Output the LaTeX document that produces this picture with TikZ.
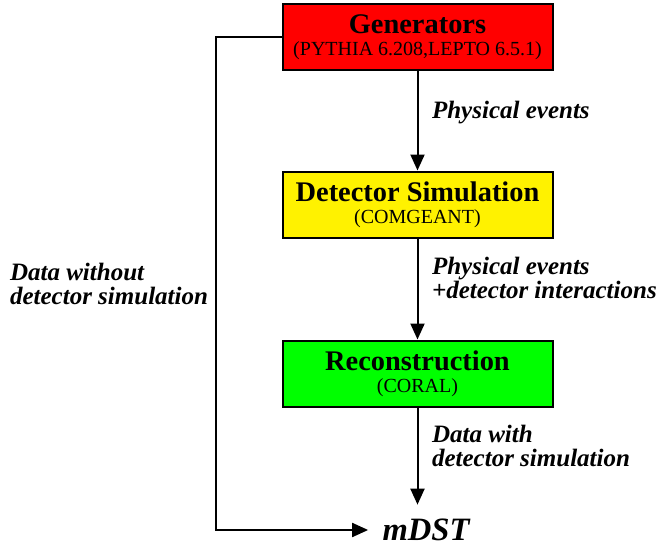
\documentclass[tikz,border=0pt]{standalone}
\usepackage{fontspec}
\setmainfont{Liberation Serif}
\usepackage{tikz}
\usetikzlibrary{positioning,arrows.meta}
\tikzstyle{arrow} = [line width=1pt,-{Triangle[width=7pt,length=8pt]}]
\tikzset{
 box/.style
  = {rectangle, draw, line width=1pt, minimum width=135pt, minimum height=33pt,
     inner sep=0pt, align=center},
 lbl/.style
  = {anchor=west, align=left, font=\fontsize{12.5}{12}\selectfont\bfseries\itshape},
}
\newcommand{\sub}[1]{{\fontsize{10}{12}\selectfont #1}}
\newcommand{\ttl}[1]{{\fontsize{14.2}{14}\selectfont\bfseries #1}}

\begin{document}
\begin{tikzpicture}[x=0.5pt,y=-0.5pt]
\useasboundingbox (0,0) rectangle (660,546);

% Generators
\node[box,fill=red] (gen) at (417.5,37)
  {\ttl{Generators}\\[-1pt]\sub{(PYTHIA 6.208,LEPTO 6.5.1)}};

% Detector simulation
\node[box,fill=yellow] (det) at (417.5,204.5)
  {\ttl{Detector Simulation}\\[-1pt]\sub{(COMGEANT)}};

% Reconstruction
\node[box,fill=green] (rec) at (417.5,373.5)
  {\ttl{Reconstruction}\\[-1pt]\sub{(CORAL)}};

% mDST
\node[inner sep=7pt,font=\fontsize{16.3}{16}\selectfont\bfseries\itshape] (mdst) at (426,530) {mDST};

% Arrows
\draw[arrow] (gen.south) -- (det.north);
\draw[arrow] (det.south) -- (rec.north);
\draw[arrow] (rec.south) -- (rec.south |- mdst.north);
\coordinate (bend) at (216,530);
\draw[arrow] (gen.west) -| (bend) -- (mdst.west);

% Labels
\node[lbl] (l1) at (425,113) {Physical events};
\node[lbl] (l2) at (425,278) {Physical events\\+detector interactions};
\node[lbl] (l3) at (425,446) {Data with\\detector simulation};
\node[lbl] (l4) at (3,284) {Data without\\detector simulation};

\end{tikzpicture}
\end{document}
